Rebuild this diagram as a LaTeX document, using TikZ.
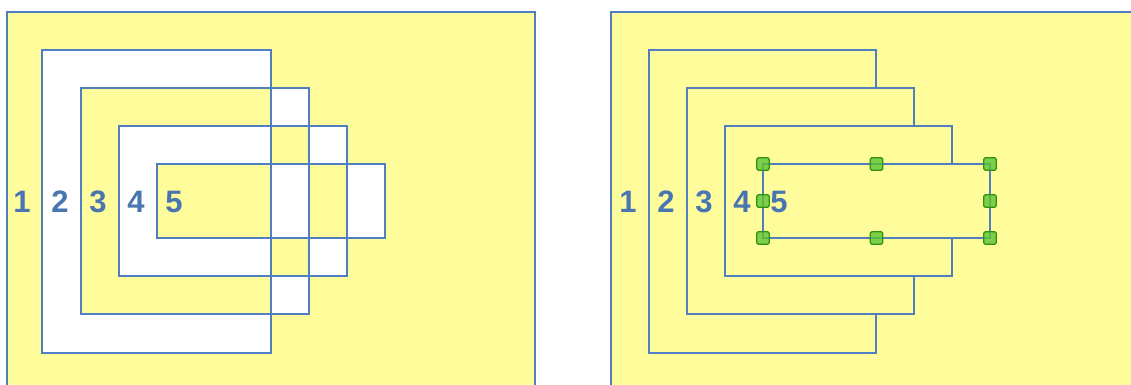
\documentclass[tikz,border=0pt]{standalone}
\usepackage{fontspec}
\setmainfont{Liberation Sans}
\usepackage{xcolor}
\definecolor{edge}{HTML}{4F7FC0}
\definecolor{paper}{HTML}{FFFC9C}
\definecolor{gripfill}{HTML}{5CC432}
\definecolor{gripline}{HTML}{2E9410}
\usepackage{tikz}
\usetikzlibrary{positioning}
\tikzstyle{frame}  = [draw=edge, line width=1.7pt]
\tikzstyle{sheet}  = [frame, fill=paper]
\tikzstyle{num}    = [text=edge!92!black, inner sep=0pt,
                      font=\fontsize{31}{36}\selectfont\bfseries]
\tikzstyle{grip}   = [rectangle, draw=gripline, fill=gripfill, fill opacity=0.8,
                      line width=1.1pt, minimum size=12.5pt, inner sep=0pt,
                      rounded corners=1.5pt]

\begin{document}
\begin{tikzpicture}[x=1pt, y=-1pt]
  \useasboundingbox (0,0) rectangle (1131,385);
  \clip (0,0) rectangle (1131,385);

  % left panel, even-odd nesting
  \fill[paper, even odd rule] (7,12) rectangle (535,400)
        (42,50) rectangle (271,353) (81,88) rectangle (309,314)
        (119,126) rectangle (347,276) (157,164) rectangle (385,238);
  \draw[frame] (7,12) rectangle (535,400);
  \draw[frame] (42,50) rectangle (271,353);
  \draw[frame] (81,88) rectangle (309,314);
  \draw[frame] (119,126) rectangle (347,276);
  \draw[frame] (157,164) rectangle (385,238);

  \node[num] (l1) at (22,202)  {1};
  \node[num] (l2) at (60,202)  {2};
  \node[num] (l3) at (98,202)  {3};
  \node[num] (l4) at (136,202) {4};
  \node[num] (l5) at (174,202) {5};

  % right panel, stacked
  \draw[sheet] (611,12) rectangle (1140,400);
  \draw[sheet] (649,50) rectangle (876,353);
  \draw[sheet] (687,88) rectangle (914,314);
  \draw[sheet] (725,126) rectangle (952,276);
  \node[sheet, outer sep=0pt, minimum width=227pt, minimum height=74pt,
        anchor=north west] (sel) at (763,164) {};

  \node[num] (r1) at (628,202) {1};
  \node[num] (r2) at (666,202) {2};
  \node[num] (r3) at (704,202) {3};
  \node[num] (r4) at (742,202) {4};
  \node[num] (r5) at (779,202) {5};

  % selection handles
  \node[grip] (hnw) at (sel.north west) {};
  \node[grip] (hn)  at (sel.north) {};
  \node[grip] (hne) at (sel.north east) {};
  \node[grip] (hw)  at (sel.west) {};
  \node[grip] (he)  at (sel.east) {};
  \node[grip] (hsw) at (sel.south west) {};
  \node[grip] (hs)  at (sel.south) {};
  \node[grip] (hse) at (sel.south east) {};
\end{tikzpicture}
\end{document}
